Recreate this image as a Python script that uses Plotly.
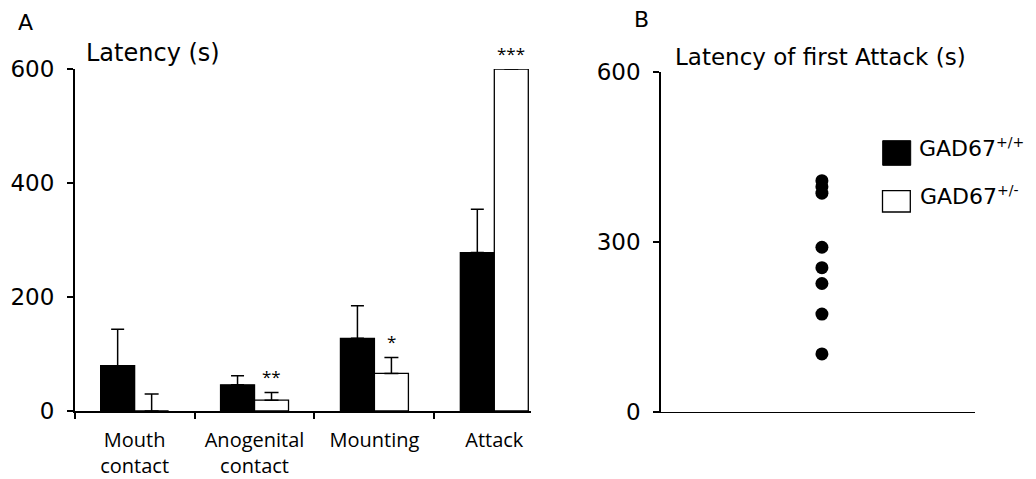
import plotly.graph_objects as go

# ---------------- data ----------------
categories = ["Mouth<br>contact", "Anogenital<br>contact", "Mounting", "Attack"]
wt_latency = [79.5, 46, 127.5, 278]      # GAD67+/+ mean latency (s)
wt_sem = [64, 16, 57, 76]
het_latency = [0, 19, 66, 600]           # GAD67+/- mean latency (s)
het_sem = [30, 13.5, 28, 0]
significance = ["", "**", "*", "***"]

first_attack_wt = [408.5, 398, 386.5, 291, 255, 227, 173, 102.5]  # panel B
yticks_a = [0, 200, 400, 600]
yticks_b = [0, 300, 600]

W, H = 1036, 479
SANS = "DejaVu Sans"
CAT = "Open Sans"

def px(x):
    return x / W

def py(y):
    return 1 - y / H

fig = go.Figure()

fig.add_trace(go.Bar(
    x=categories, y=wt_latency, name="GAD67+/+",
    marker=dict(color="black", line=dict(color="black", width=1.3)),
    error_y=dict(type="data", symmetric=False, array=wt_sem,
                 arrayminus=[0] * len(wt_sem), color="black",
                 thickness=1.5, width=6.5),
    xaxis="x", yaxis="y", showlegend=False,
))
fig.add_trace(go.Bar(
    x=categories, y=het_latency, name="GAD67+/-",
    marker=dict(color="white", line=dict(color="black", width=1.3)),
    error_y=dict(type="data", symmetric=False, array=het_sem,
                 arrayminus=[0] * len(het_sem), color="black",
                 thickness=1.5, width=7),
    xaxis="x", yaxis="y", showlegend=False,
))

fig.add_trace(go.Scatter(
    x=[0] * len(first_attack_wt), y=first_attack_wt, mode="markers",
    marker=dict(color="black", size=13, line=dict(width=0)),
    xaxis="x2", yaxis="y2", showlegend=False,
))

annotations = []
# significance stars
for cat, v, e, s in zip(categories, het_latency, het_sem, significance):
    if s:
        annotations.append(dict(
            x=cat, y=v + e, xref="x", yref="y", text=s, showarrow=False,
            xshift=17, yshift=2, yanchor="bottom",
            font=dict(family=CAT, size=17, color="black")))

SUP = '<sup><span style="font-size:14px">{}</span></sup>'

# panel labels and titles
annotations += [
    dict(x=px(25.5), y=py(22.7), xref="paper", yref="paper", text="A",
         showarrow=False, xanchor="center", yanchor="middle",
         font=dict(family=SANS, size=22, color="black")),
    dict(x=px(641.5), y=py(19), xref="paper", yref="paper", text="B",
         showarrow=False, xanchor="center", yanchor="middle",
         font=dict(family=SANS, size=22, color="black")),
    dict(x=px(84), y=py(53), xref="paper", yref="paper", text="Latency (s)",
         showarrow=False, xanchor="left", yanchor="middle",
         font=dict(family=SANS, size=24, color="black")),
    dict(x=px(673), y=py(57), xref="paper", yref="paper",
         text="Latency of first Attack (s)",
         showarrow=False, xanchor="left", yanchor="middle",
         font=dict(family=SANS, size=23, color="black")),
    dict(x=px(917), y=py(147), xref="paper", yref="paper",
         text="GAD67" + SUP.format("+/+"),
         showarrow=False, xanchor="left", yanchor="middle",
         font=dict(family=SANS, size=22, color="black")),
    dict(x=px(918), y=py(195), xref="paper", yref="paper",
         text="GAD67" + SUP.format("+/-"),
         showarrow=False, xanchor="left", yanchor="middle",
         font=dict(family=SANS, size=22, color="black")),
]

shapes = [
    dict(type="rect", xref="paper", yref="paper",
         x0=px(882.7), x1=px(910.7), y0=py(165.3), y1=py(140.7),
         fillcolor="black", line=dict(color="black", width=1)),
    dict(type="rect", xref="paper", yref="paper",
         x0=px(882.5), x1=px(910.3), y0=py(212), y1=py(190.7),
         fillcolor="white", line=dict(color="black", width=1.3)),
]

axis_common = dict(showgrid=False, zeroline=False, showline=True,
                   linecolor="black", linewidth=1.5, ticks="outside",
                   tickcolor="black", tickwidth=1.5, ticklen=6,
                   automargin=False)

fig.update_layout(
    template="none",
    width=W, height=H, autosize=False,
    margin=dict(l=0, r=0, t=0, b=0, pad=0),
    paper_bgcolor="white", plot_bgcolor="white",
    barmode="group", bargap=0.433, bargroupgap=0,
    xaxis=dict(**axis_common, domain=[px(74.7), px(531)], type="category",
               categoryorder="array", categoryarray=categories,
               range=[-0.5, 3.306], tickson="boundaries",
               ticklabelstandoff=10,
               tickfont=dict(family=CAT, size=20, color="black"),
               anchor="y"),
    yaxis=dict(**axis_common, domain=[py(411), py(69)], range=[0, 600],
               tickvals=yticks_a, ticklabelstandoff=8,
               tickfont=dict(family=SANS, size=23, color="black"),
               anchor="x"),
    xaxis2=dict(showgrid=False, zeroline=False, showline=True,
                linecolor="black", linewidth=1.3, ticks="",
                showticklabels=False, domain=[px(661), px(975)],
                range=[-1.025, 0.975], anchor="y2", automargin=False),
    yaxis2=dict(**axis_common, domain=[py(412), py(72.3)], range=[0, 600],
                tickvals=yticks_b, ticklabelstandoff=8,
                tickfont=dict(family=SANS, size=23, color="black"),
                anchor="x2"),
    annotations=annotations,
    shapes=shapes,
)

fig.write_html("out.html",
               config={"displayModeBar": False},
               post_script="document.body.style.margin='0px';"
                           "document.body.style.overflow='hidden';")
